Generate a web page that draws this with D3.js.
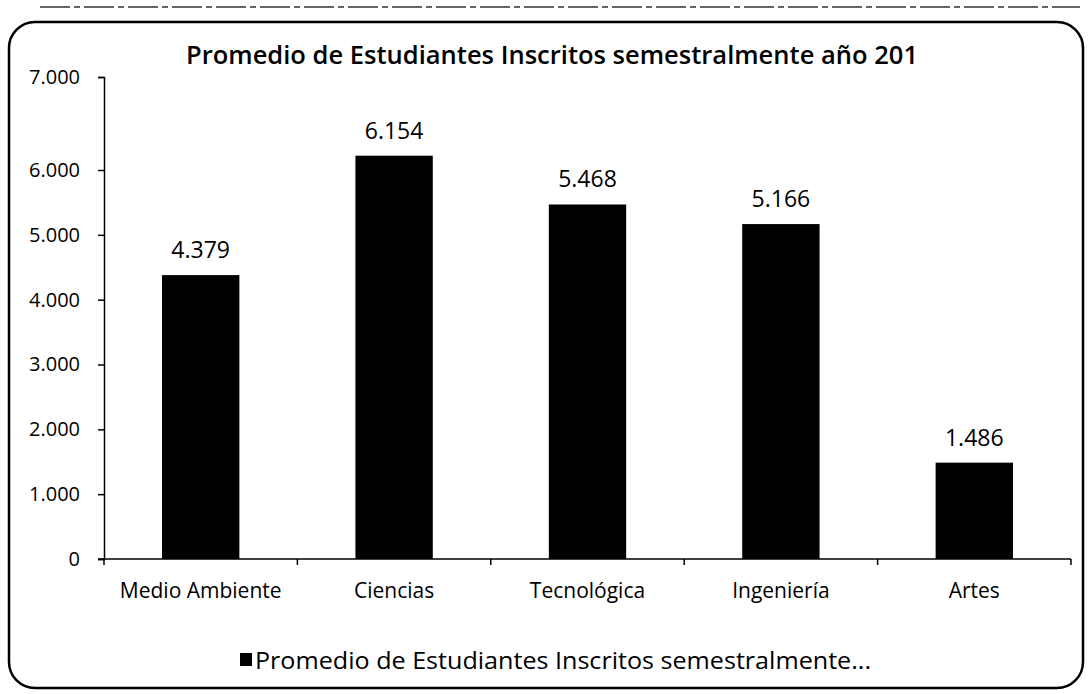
<!DOCTYPE html>
<html>
<head>
<meta charset="utf-8">
<script src="https://cdn.jsdelivr.net/npm/d3@7"></script>
<style>
  body { margin: 0; background: #fff; }
  text { font-family: "Open Sans", "Liberation Sans", sans-serif; fill: #000; }
</style>
</head>
<body>
<div id="chart"></div>
<script>
// chart data
var categories = ["Medio Ambiente", "Ciencias", "Tecnológica", "Ingeniería", "Artes"];
var values = [4379, 6154, 5468, 5166, 1486];
var yTicks = [0, 1000, 2000, 3000, 4000, 5000, 6000, 7000];
var titleText = "Promedio de Estudiantes Inscritos semestralmente año 201";
var legendText = "Promedio de Estudiantes Inscritos semestralmente...";

var svgWidth = 1090;
var svgHeight = 694;

var svg = d3.select("#chart")
    .append("svg")
    .attr("width", svgWidth)
    .attr("height", svgHeight);

// frame of the chart area
svg.append("rect")
    .attr("x", 9)
    .attr("y", 22)
    .attr("width", 1074)
    .attr("height", 666)
    .attr("rx", 26)
    .attr("fill", "none")
    .attr("stroke", "#000")
    .attr("stroke-width", 2.5);

// scan artefact line at top
svg.append("line")
    .attr("x1", 40).attr("x2", 1080)
    .attr("y1", 7).attr("y2", 7)
    .attr("stroke", "#333")
    .attr("stroke-width", 1.5)
    .attr("stroke-dasharray", "30 4 6 4");

// title
svg.append("text")
    .attr("x", 552)
    .attr("y", 64)
    .attr("text-anchor", "middle")
    .attr("font-size", "25px")
    .attr("font-weight", "600")
    .attr("textLength", 732)
    .attr("lengthAdjust", "spacingAndGlyphs")
    .text(titleText);

// scales
var xScale = d3.scaleBand()
    .domain(categories)
    .range([104, 1071])
    .paddingInner(0.6)
    .paddingOuter(0.3);

// the scanned axis is stretched at the top, so 6000-7000 is longer
var yScale = d3.scaleLinear()
    .domain([0, 6000, 7000])
    .range([559, 170, 77]);

// y axis
var yAxis = d3.axisLeft(yScale)
    .tickValues(yTicks)
    .tickSize(6)
    .tickPadding(18)
    .tickFormat(d => d3.format(",")(d).replace(/,/g, "."));

var yG = svg.append("g")
    .attr("transform", "translate(104,0)")
    .call(yAxis);
yG.attr("font-size", null).attr("font-family", null);
yG.select(".domain").attr("stroke", "#000").attr("stroke-width", 1.5);
yG.selectAll(".tick line").attr("stroke", "#000").attr("stroke-width", 1.5);
yG.selectAll("text")
    .style("font-size", "20px")
    .attr("fill", "#000");

// x axis line
var step = xScale.step();
svg.append("line")
    .attr("x1", 98)
    .attr("x2", 1071)
    .attr("y1", 559)
    .attr("y2", 559)
    .attr("stroke", "#000")
    .attr("stroke-width", 1.5);

// x tick marks at the category boundaries
var boundaries = d3.range(categories.length + 1).map(i => 104 + i * step);
svg.selectAll(".xtick")
    .data(boundaries)
    .enter()
    .append("line")
    .attr("class", "xtick")
    .attr("x1", d => d)
    .attr("x2", d => d)
    .attr("y1", 559)
    .attr("y2", 565)
    .attr("stroke", "#000")
    .attr("stroke-width", 1.5);

// category labels
svg.selectAll(".xlabel")
    .data(categories)
    .enter()
    .append("text")
    .attr("class", "xlabel")
    .attr("x", d => xScale(d) + xScale.bandwidth() / 2)
    .attr("y", 598)
    .attr("text-anchor", "middle")
    .style("font-size", "21px")
    .text(d => d);

// bars
svg.selectAll(".bar")
    .data(values)
    .enter()
    .append("rect")
    .attr("class", "bar")
    .attr("x", (d, i) => xScale(categories[i]))
    .attr("y", d => yScale(d))
    .attr("width", xScale.bandwidth())
    .attr("height", d => yScale(0) - yScale(d))
    .attr("fill", "#000");

// value labels
svg.selectAll(".vlabel")
    .data(values)
    .enter()
    .append("text")
    .attr("class", "vlabel")
    .attr("x", (d, i) => xScale(categories[i]) + xScale.bandwidth() / 2)
    .attr("y", d => yScale(d) - 17)
    .attr("text-anchor", "middle")
    .style("font-size", "23px")
    .text(d => d3.format(",")(d).replace(/,/g, "."));

// legend
svg.append("rect")
    .attr("x", 240)
    .attr("y", 653)
    .attr("width", 12)
    .attr("height", 13)
    .attr("fill", "#000");

svg.append("text")
    .attr("x", 255)
    .attr("y", 669)
    .style("font-size", "23px")
    .attr("textLength", 616)
    .attr("lengthAdjust", "spacingAndGlyphs")
    .text(legendText);
</script>
</body>
</html>
